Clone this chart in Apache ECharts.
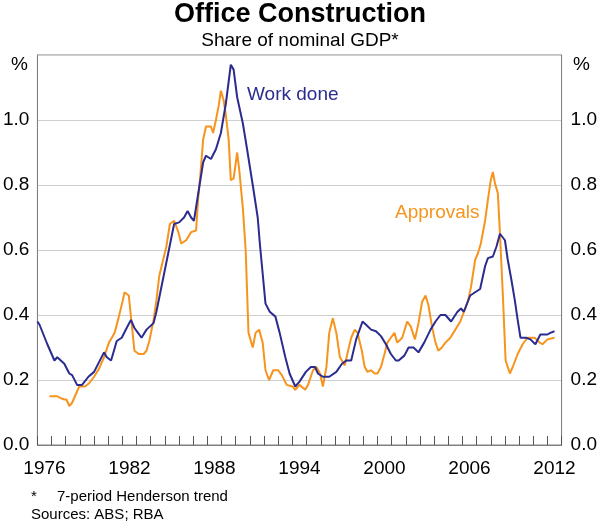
<!DOCTYPE html>
<html>
<head>
<meta charset="utf-8">
<script src="https://cdn.jsdelivr.net/npm/echarts@6/dist/echarts.min.js"></script>
<style>html,body{margin:0;padding:0;background:#fff}#c{width:600px;height:526px}</style>
</head>
<body>
<div id="c"></div>
<script>
var years = [];
for (var y = 1976; y <= 2012; y++) years.push(String(y));
var yTicks = [0, 0.2, 0.4, 0.6, 0.8, 1.0, 1.2];

var workDone = [[1976.0,0.38],[1976.15,0.37],[1976.7,0.31],[1977.2,0.26],[1977.4,0.27],[1977.9,0.25],[1978.25,0.22],[1978.45,0.215],[1978.8,0.185],[1979.15,0.185],[1979.6,0.21],[1980.0,0.225],[1980.35,0.255],[1980.7,0.285],[1980.9,0.27],[1981.2,0.26],[1981.6,0.32],[1981.95,0.33],[1982.3,0.36],[1982.6,0.385],[1982.85,0.36],[1983.1,0.345],[1983.35,0.33],[1983.7,0.355],[1984.2,0.375],[1984.4,0.41],[1985.65,0.68],[1986.0,0.685],[1986.35,0.70],[1986.6,0.72],[1986.85,0.70],[1987.05,0.69],[1987.7,0.87],[1987.9,0.89],[1988.25,0.88],[1988.6,0.91],[1988.95,0.96],[1989.3,1.05],[1989.65,1.17],[1989.85,1.155],[1990.1,1.07],[1990.5,0.99],[1990.8,0.91],[1991.2,0.80],[1991.55,0.70],[1991.7,0.62],[1992.1,0.435],[1992.4,0.41],[1992.8,0.395],[1993.1,0.345],[1993.5,0.27],[1993.8,0.22],[1994.2,0.18],[1994.5,0.195],[1994.95,0.225],[1995.3,0.24],[1995.6,0.24],[1995.8,0.22],[1996.15,0.21],[1996.6,0.21],[1997.1,0.225],[1997.5,0.25],[1997.8,0.26],[1998.15,0.26],[1998.5,0.325],[1998.95,0.38],[1999.2,0.37],[1999.55,0.355],[1999.9,0.35],[2000.25,0.335],[2000.6,0.31],[2000.95,0.28],[2001.3,0.26],[2001.5,0.26],[2001.9,0.275],[2002.2,0.30],[2002.55,0.30],[2002.9,0.285],[2003.3,0.315],[2003.75,0.355],[2004.1,0.38],[2004.45,0.40],[2004.8,0.40],[2005.2,0.38],[2005.65,0.41],[2005.9,0.42],[2006.1,0.41],[2006.55,0.46],[2006.9,0.47],[2007.25,0.48],[2007.6,0.55],[2007.8,0.575],[2008.15,0.58],[2008.4,0.61],[2008.65,0.65],[2009.0,0.63],[2009.2,0.57],[2009.45,0.51],[2009.7,0.445],[2009.9,0.385],[2010.1,0.33],[2010.5,0.33],[2010.8,0.325],[2011.15,0.31],[2011.5,0.34],[2012.0,0.34],[2012.2,0.345],[2012.5,0.35]];

var approvals = [[1976.85,0.15],[1977.4,0.15],[1977.6,0.145],[1977.9,0.14],[1978.05,0.14],[1978.25,0.12],[1978.45,0.13],[1978.95,0.18],[1979.35,0.18],[1979.65,0.19],[1980.0,0.21],[1980.35,0.235],[1980.7,0.27],[1981.05,0.315],[1981.25,0.33],[1981.45,0.345],[1981.75,0.395],[1982.0,0.44],[1982.15,0.47],[1982.45,0.46],[1982.65,0.375],[1982.85,0.29],[1983.15,0.28],[1983.5,0.28],[1983.7,0.29],[1983.9,0.32],[1984.2,0.385],[1984.4,0.445],[1984.6,0.52],[1985.1,0.61],[1985.35,0.68],[1985.65,0.69],[1985.95,0.655],[1986.15,0.62],[1986.5,0.63],[1986.85,0.655],[1987.2,0.66],[1987.35,0.76],[1987.5,0.83],[1987.7,0.94],[1987.9,0.98],[1988.25,0.98],[1988.4,0.96],[1988.6,1.0],[1988.8,1.045],[1988.95,1.09],[1989.15,1.06],[1989.3,1.015],[1989.5,0.94],[1989.65,0.815],[1989.85,0.82],[1990.1,0.90],[1990.25,0.845],[1990.5,0.73],[1990.7,0.60],[1990.9,0.345],[1991.2,0.30],[1991.4,0.345],[1991.65,0.355],[1991.9,0.315],[1992.1,0.23],[1992.35,0.20],[1992.65,0.23],[1993.0,0.23],[1993.25,0.215],[1993.6,0.185],[1994.0,0.18],[1994.2,0.17],[1994.5,0.185],[1994.9,0.17],[1995.1,0.185],[1995.45,0.23],[1995.7,0.24],[1995.95,0.22],[1996.15,0.18],[1996.4,0.24],[1996.6,0.345],[1996.85,0.39],[1997.1,0.345],[1997.35,0.27],[1997.7,0.245],[1997.9,0.285],[1998.15,0.33],[1998.4,0.355],[1998.6,0.345],[1998.9,0.29],[1999.1,0.24],[1999.3,0.225],[1999.55,0.23],[1999.8,0.22],[2000.0,0.22],[2000.25,0.24],[2000.5,0.28],[2000.7,0.315],[2000.95,0.33],[2001.2,0.345],[2001.4,0.315],[2001.75,0.33],[2002.1,0.38],[2002.35,0.365],[2002.65,0.325],[2002.9,0.375],[2003.15,0.44],[2003.4,0.46],[2003.6,0.43],[2003.85,0.365],[2004.1,0.315],[2004.3,0.29],[2004.55,0.30],[2004.8,0.315],[2005.15,0.33],[2005.5,0.355],[2005.85,0.38],[2006.2,0.42],[2006.4,0.445],[2006.6,0.485],[2006.9,0.57],[2007.1,0.59],[2007.3,0.62],[2007.6,0.69],[2007.8,0.755],[2008.0,0.815],[2008.15,0.84],[2008.3,0.805],[2008.5,0.775],[2008.65,0.65],[2008.85,0.465],[2009.05,0.26],[2009.35,0.22],[2009.55,0.24],[2009.9,0.28],[2010.25,0.31],[2010.6,0.33],[2011.1,0.33],[2011.45,0.315],[2011.65,0.31],[2012.0,0.325],[2012.5,0.33]];

var FONT = 'Arial, "Liberation Sans", sans-serif';
var BLUE = '#2B2C8F';
var ORANGE = '#F7941D';
var AXIS = '#808080';

var chart = echarts.init(document.getElementById('c'), null, {renderer: 'canvas'});
function yLabel(v) { return Math.abs(v - 1.2) < 1e-6 ? '' : v.toFixed(1); }
chart.setOption({
  animation: false,
  grid: {left: 35, right: 36, top: 55, bottom: 81, show: true, borderColor: AXIS, borderWidth: 1},
  xAxis: [
    {type: 'category', data: years, boundaryGap: true, position: 'bottom',
     axisLine: {show: true, lineStyle: {color: AXIS, width: 1}},
     axisTick: {show: true, inside: true, length: 9, interval: 0, lineStyle: {color: '#555'}},
     axisLabel: {interval: 5, margin: 14, fontSize: 19, color: '#000', fontFamily: FONT},
     splitLine: {show: false}},
    {type: 'value', min: 1976, max: 2013, show: false}
  ],
  yAxis: [
    {type: 'value', min: 0, max: 1.2, interval: 0.2, position: 'left',
     axisLine: {show: true, lineStyle: {color: AXIS}}, axisTick: {show: false},
     axisLabel: {formatter: yLabel, fontSize: 19, margin: 8, color: '#000', fontFamily: FONT},
     splitLine: {show: true, lineStyle: {color: '#CFCFCF', width: 1}}},
    {type: 'value', min: 0, max: 1.2, interval: 0.2, position: 'right',
     axisLine: {show: true, lineStyle: {color: AXIS}}, axisTick: {show: false},
     axisLabel: {formatter: yLabel, fontSize: 19, margin: 9, color: '#000', fontFamily: FONT},
     splitLine: {show: false}}
  ],
  series: [
    {name: 'Approvals', type: 'line', xAxisIndex: 1, yAxisIndex: 0, data: approvals, showSymbol: false,
     lineStyle: {color: ORANGE, width: 2}, itemStyle: {color: ORANGE}},
    {name: 'Work done', type: 'line', xAxisIndex: 1, yAxisIndex: 0, data: workDone, showSymbol: false,
     lineStyle: {color: BLUE, width: 2}, itemStyle: {color: BLUE}}
  ],
  graphic: [
    {type: 'text', left: 'center', top: 1, style: {text: 'Office Construction', font: 'bold 27px ' + FONT, fill: '#000'}},
    {type: 'text', left: 'center', top: 31, style: {text: 'Share of nominal GDP*', font: '19px ' + FONT, fill: '#000'}},
    {type: 'text', x: 28, y: 65, style: {text: '%', font: '19px ' + FONT, fill: '#000', align: 'right', verticalAlign: 'middle'}},
    {type: 'text', x: 573, y: 65, style: {text: '%', font: '19px ' + FONT, fill: '#000', align: 'left', verticalAlign: 'middle'}},
    {type: 'text', x: 247, y: 95, style: {text: 'Work done', font: '19px ' + FONT, fill: BLUE, verticalAlign: 'middle'}},
    {type: 'text', x: 395, y: 213, style: {text: 'Approvals', font: '19px ' + FONT, fill: ORANGE, verticalAlign: 'middle'}},
    {type: 'text', x: 31, y: 497, style: {text: '*', font: '15px ' + FONT, fill: '#000', verticalAlign: 'middle'}},
    {type: 'text', x: 57, y: 497, style: {text: '7-period Henderson trend', font: '15px ' + FONT, fill: '#000', verticalAlign: 'middle'}},
    {type: 'text', x: 31, y: 515, style: {text: 'Sources: ABS; RBA', font: '15px ' + FONT, fill: '#000', verticalAlign: 'middle'}}
  ]
});
</script>
</body>
</html>
